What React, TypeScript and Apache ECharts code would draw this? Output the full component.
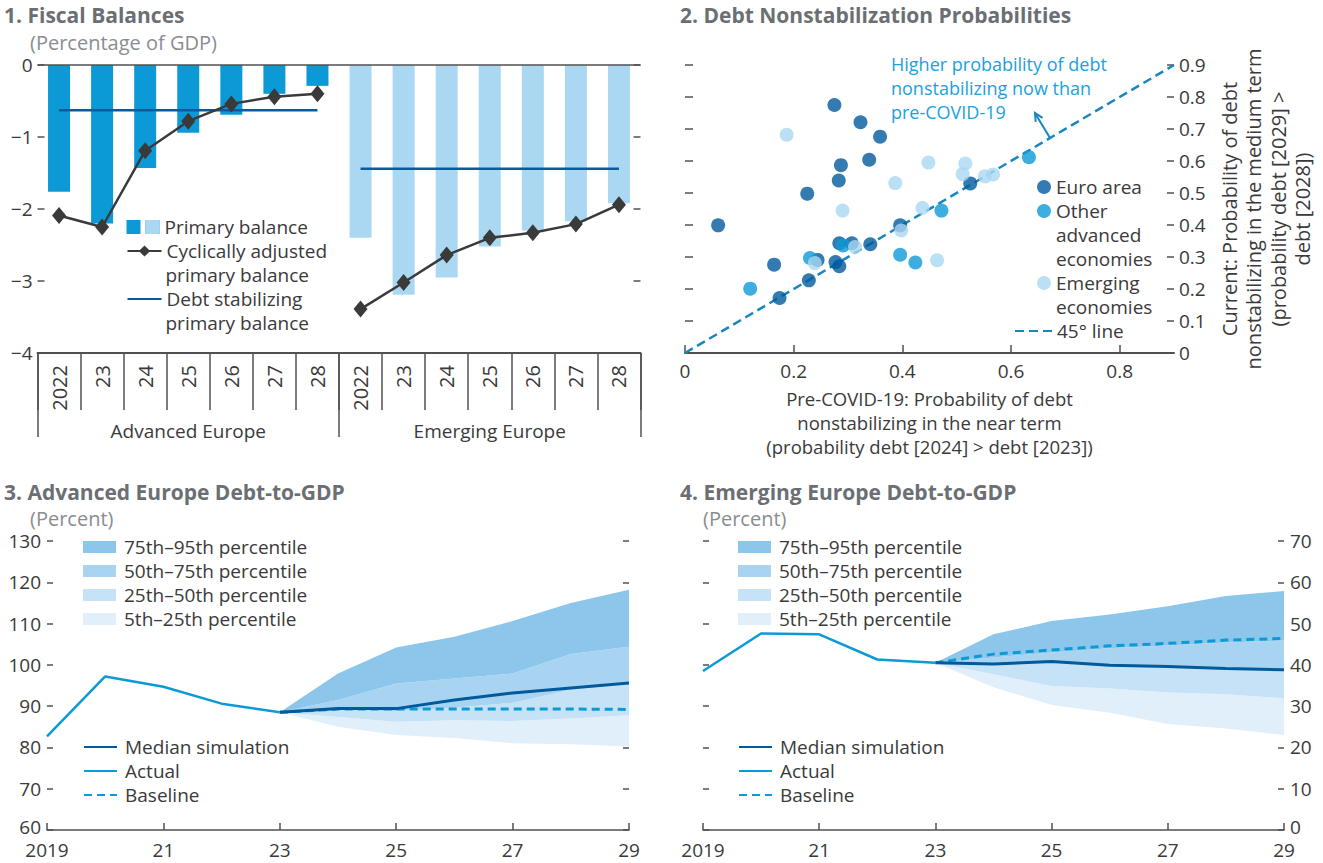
import React, { useEffect, useRef } from 'react';
import * as echarts from 'echarts';

const F = '"Open Sans", sans-serif';
const TXT = '#3a3a3a';
const AX = '#505050';
const FS = 19;

// ---------- Panel 1: Fiscal balances ----------
const fiscalYears = ['2022', '23', '24', '25', '26', '27', '28'];
const fiscalGroups = ['Advanced Europe', 'Emerging Europe'];
const primaryAdv = [-1.76, -2.2, -1.43, -0.94, -0.69, -0.4, -0.29];
const primaryEm = [-2.4, -3.19, -2.95, -2.52, -2.3, -2.17, -1.92];
const cyclAdv = [-2.09, -2.25, -1.19, -0.78, -0.54, -0.44, -0.4];
const cyclEm = [-3.39, -3.02, -2.64, -2.4, -2.33, -2.21, -1.94];
const debtStabAdv = -0.63;
const debtStabEm = -1.44;

// ---------- Panel 2: Debt nonstabilization probabilities ----------
const euroArea = [
  [0.061, 0.399], [0.275, 0.775], [0.323, 0.721], [0.359, 0.676], [0.339, 0.604],
  [0.287, 0.587], [0.283, 0.539], [0.225, 0.498], [0.525, 0.53], [0.396, 0.399],
  [0.284, 0.343], [0.307, 0.343], [0.341, 0.34], [0.164, 0.276], [0.244, 0.291],
  [0.277, 0.284], [0.284, 0.271], [0.228, 0.227], [0.174, 0.172],
];
const otherAdvanced = [
  [0.12, 0.201], [0.23, 0.297], [0.291, 0.336], [0.396, 0.307], [0.424, 0.283],
  [0.472, 0.445], [0.633, 0.612],
];
const emergingEcon = [
  [0.187, 0.682], [0.448, 0.595], [0.516, 0.592], [0.511, 0.559], [0.552, 0.552],
  [0.567, 0.558], [0.387, 0.531], [0.29, 0.445], [0.437, 0.453], [0.398, 0.383],
  [0.313, 0.331], [0.239, 0.281], [0.464, 0.29],
];
const diag45 = [[0, 0], [0.9, 0.9]];
const probTicks = [0, 0.2, 0.4, 0.6, 0.8];

// ---------- Panels 3 & 4: Debt-to-GDP ----------
const projYears = ['2019', '20', '21', '22', '23', '24', '25', '26', '27', '28', '29'];
// actual 2019-2023, projections 2023-2029
const adv_actual = [82.7, 97.2, 94.7, 90.6, 88.5];
const adv_p5 = [88.5, 85.0, 83.0, 82.3, 81.0, 80.8, 80.2];
const adv_p25 = [88.5, 87.4, 86.2, 86.6, 86.4, 87.0, 87.8];
const adv_p50 = [88.5, 89.0, 88.8, 89.6, 90.8, 94.0, 95.3];
const adv_p75 = [88.5, 91.5, 95.5, 96.7, 97.9, 102.6, 104.4];
const adv_p95 = [88.5, 97.9, 104.2, 106.8, 110.6, 115.0, 118.2];
const adv_median = [88.5, 89.4, 89.4, 91.5, 93.2, 94.4, 95.6];
const adv_baseline = [88.5, 89.3, 89.3, 89.3, 89.3, 89.3, 89.2];

const em_actual = [38.5, 47.6, 47.4, 41.3, 40.5];
const em_p5 = [40.5, 34.6, 30.3, 28.4, 25.7, 24.6, 23.0];
const em_p25 = [40.5, 37.7, 34.9, 34.3, 33.3, 32.9, 31.9];
const em_p50 = [40.5, 40.3, 40.9, 40.1, 39.8, 39.3, 39.1];
const em_p75 = [40.5, 41.8, 43.0, 44.0, 44.7, 45.4, 45.9];
const em_p95 = [40.5, 47.4, 50.6, 52.2, 54.2, 56.7, 57.9];
const em_median = [40.5, 40.2, 40.8, 39.9, 39.6, 39.1, 38.8];
const em_baseline = [40.5, 42.6, 43.6, 44.6, 45.2, 46.0, 46.4];

const bandNames = ['5th–25th percentile', '25th–50th percentile', '50th–75th percentile', '75th–95th percentile'];
const bandColors = ['#e0effa', '#c6e2f6', '#a9d4f1', '#8cc6eb'];

const C_DARK = '#005a9c';
const C_MID = '#0c9ad7';
const C_LIGHT = '#aad8f2';

export default function App() {
  const ref = useRef<HTMLDivElement>(null);

  useEffect(() => {
    if (!ref.current) return;
    const chart = echarts.init(ref.current, undefined, { renderer: 'svg' });

    const nul7 = fiscalYears.map(() => null);
    const cats1 = [...fiscalYears, ...fiscalYears];
    const padProj = (a: number[]) => [null, null, null, null, ...a];
    const padAct = (a: number[]) => [...a, null, null, null, null, null, null];
    const diff = (hi: number[], lo: number[]) => hi.map((v, i) => +(v - lo[i]).toFixed(3));
    const minus = (v: number) => (v < 0 ? '\u2212' + Math.abs(v) : String(v));
    // lift the lowest value label slightly so it does not collide with the year labels
    const liftMin = (min: number) => (v: number) => (v === min ? `{lo|${v}}` : String(v));
    const richLo = { lo: { fontSize: FS, color: TXT, fontFamily: F, padding: [0, 0, 6, 0] } };

    const txt = { fontSize: FS, color: TXT, fontFamily: F };

    const bandSeries = (xi: number, yi: number, stack: string, pcts: number[][]) => {
      const out: any[] = [
        {
          type: 'line', name: 'base-' + stack, xAxisIndex: xi, yAxisIndex: yi, stack,
          data: padProj(pcts[0]), symbol: 'none', lineStyle: { opacity: 0 }, silent: true, z: 1,
        },
      ];
      for (let k = 0; k < 4; k++) {
        out.push({
          type: 'line', name: bandNames[k], xAxisIndex: xi, yAxisIndex: yi, stack,
          data: padProj(diff(pcts[k + 1], pcts[k])), symbol: 'none',
          color: bandColors[k], itemStyle: { color: bandColors[k] },
          lineStyle: { opacity: 0, width: 0 }, areaStyle: { color: bandColors[k], opacity: 1 }, z: 1,
        });
      }
      return out;
    };

    const lineSeries = (xi: number, yi: number, actual: number[], median: number[], baseline: number[]) => [
      {
        type: 'line', name: 'Baseline', xAxisIndex: xi, yAxisIndex: yi, data: padProj(baseline),
        symbol: 'none', color: C_MID, lineStyle: { color: C_MID, width: 3, type: [8, 5] }, z: 3,
      },
      {
        type: 'line', name: 'Median simulation', xAxisIndex: xi, yAxisIndex: yi, data: padProj(median),
        symbol: 'none', color: C_DARK, lineStyle: { color: C_DARK, width: 3 }, z: 4,
      },
      {
        type: 'line', name: 'Actual', xAxisIndex: xi, yAxisIndex: yi, data: padAct(actual),
        symbol: 'none', color: C_MID, lineStyle: { color: C_MID, width: 2.5 }, z: 5,
      },
    ];

    const titleBold = (text: string, left: number, top: number) => ({
      text, left, top, padding: 0,
      textStyle: { fontSize: 21, fontWeight: 'bold', color: '#6b6f74', fontFamily: F, lineHeight: 22 },
    });
    const titleSub = (text: string, left: number, top: number) => ({
      text, left, top, padding: 0,
      textStyle: { fontSize: 20, fontWeight: 'normal', color: '#8a8d90', fontFamily: F, lineHeight: 22 },
    });

    const legendBase = {
      orient: 'vertical', padding: 0, itemGap: 0,
      textStyle: { ...txt, lineHeight: 24 },
    };
    const noSymbol = { itemStyle: { opacity: 0 } };

    const gText = (x: number, y: number, text: string, extra: any = {}) => ({
      type: 'text', x, y, silent: true,
      style: { text, fontSize: FS, fontFamily: F, fill: TXT, verticalAlign: 'middle', lineHeight: 24, ...extra },
    });

    const option: any = {
      animation: false,
      textStyle: { fontFamily: F },
      title: [
        titleBold('1. Fiscal Balances', 4, 4),
        titleSub('(Percentage of GDP)', 30, 31),
        titleBold('2. Debt Nonstabilization Probabilities', 680, 4),
        titleBold('3. Advanced Europe Debt-to-GDP', 4, 481),
        titleSub('(Percent)', 30, 507),
        titleBold('4. Emerging Europe Debt-to-GDP', 680, 481),
        titleSub('(Percent)', 703, 507),
      ],
      grid: [
        { left: 37.5, top: 65, width: 603, height: 288 },
        { left: 685, top: 65, width: 489, height: 288 },
        { left: 47, top: 541, width: 582, height: 289 },
        { left: 703, top: 541, width: 581, height: 289 },
        { left: 37.5, top: 65, width: 603, height: 288 },
      ],
      xAxis: [
        {
          gridIndex: 0, type: 'category', data: cats1, position: 'bottom', boundaryGap: true,
          axisLine: { show: true, onZero: false, lineStyle: { color: AX, width: 2 } },
          axisTick: { show: true, interval: 0, length: 57, lineStyle: { color: AX, width: 1.5 } },
          axisLabel: { interval: 0, rotate: 90, margin: 12, ...txt, fontSize: 20 },
        },
        {
          gridIndex: 4, type: 'category', data: fiscalGroups, position: 'bottom', boundaryGap: true,
          axisLine: { show: false, onZero: false },
          axisTick: { show: true, interval: 0, length: 84, lineStyle: { color: AX, width: 1.5 } },
          axisLabel: { interval: 0, margin: 68, ...txt },
        },
        {
          gridIndex: 1, type: 'value', min: 0, max: 0.9, position: 'bottom',
          axisLine: { show: true, onZero: false, lineStyle: { color: AX, width: 2 } },
          axisTick: { show: true, inside: true, length: 8, customValues: probTicks, lineStyle: { color: AX, width: 1.5 } },
          axisLabel: { customValues: probTicks, margin: 8, ...txt },
          splitLine: { show: false },
          name: 'Pre-COVID-19: Probability of debt\nnonstabilizing in the near term\n(probability debt [2024] > debt [2023])',
          nameLocation: 'middle', nameGap: 33,
          nameTextStyle: { ...txt, fontSize: 18.5, lineHeight: 24 },
        },
        {
          gridIndex: 2, type: 'category', data: projYears, boundaryGap: false,
          axisLine: { show: true, onZero: false, lineStyle: { color: AX, width: 1.5 } },
          axisTick: { show: true, inside: true, length: 7, interval: 1, lineStyle: { color: AX, width: 1.5 } },
          axisLabel: { interval: 1, margin: 10, ...txt, lineHeight: 19 },
        },
        {
          gridIndex: 3, type: 'category', data: projYears, boundaryGap: false,
          axisLine: { show: true, onZero: false, lineStyle: { color: AX, width: 1.5 } },
          axisTick: { show: true, inside: true, length: 7, interval: 1, lineStyle: { color: AX, width: 1.5 } },
          axisLabel: { interval: 1, margin: 10, ...txt, lineHeight: 19 },
        },
      ],
      yAxis: [
        {
          gridIndex: 0, type: 'value', min: -4, max: 0, interval: 1, position: 'left',
          axisLine: { show: false }, splitLine: { show: false },
          axisTick: { show: true, inside: true, length: 7, lineStyle: { color: AX, width: 1.5 } },
          axisLabel: { margin: 5, formatter: minus, ...txt },
        },
        {
          gridIndex: 0, type: 'value', min: -4, max: 0, interval: 1, position: 'right',
          axisLine: { show: false }, splitLine: { show: false },
          axisTick: { show: true, inside: true, length: 7, lineStyle: { color: AX, width: 1.5 } },
          axisLabel: { show: false },
        },
        { gridIndex: 4, type: 'value', min: -4, max: 0, show: false },
        {
          gridIndex: 1, type: 'value', min: 0, max: 0.9, interval: 0.1, position: 'left',
          axisLine: { show: false }, splitLine: { show: false },
          axisTick: { show: true, inside: true, length: 8, lineStyle: { color: AX, width: 1.5 } },
          axisLabel: { show: false },
        },
        {
          gridIndex: 1, type: 'value', min: 0, max: 0.9, interval: 0.1, position: 'right',
          axisLine: { show: false }, splitLine: { show: false },
          axisTick: { show: true, inside: true, length: 7, lineStyle: { color: AX, width: 1.5 } },
          axisLabel: { margin: 5, ...txt },
        },
        {
          gridIndex: 2, type: 'value', min: 60, max: 130, interval: 10, position: 'left',
          axisLine: { show: false }, splitLine: { show: false },
          axisTick: { show: true, inside: true, length: 6, lineStyle: { color: AX, width: 1.5 } },
          axisLabel: { margin: 6, ...txt, lineHeight: 19, formatter: liftMin(60), rich: richLo },
        },
        {
          gridIndex: 2, type: 'value', min: 60, max: 130, interval: 10, position: 'right',
          axisLine: { show: false }, splitLine: { show: false },
          axisTick: { show: true, inside: true, length: 6, lineStyle: { color: AX, width: 1.5 } },
          axisLabel: { show: false },
        },
        {
          gridIndex: 3, type: 'value', min: 0, max: 70, interval: 10, position: 'left',
          axisLine: { show: false }, splitLine: { show: false },
          axisTick: { show: true, inside: true, length: 6, lineStyle: { color: AX, width: 1.5 } },
          axisLabel: { show: false },
        },
        {
          gridIndex: 3, type: 'value', min: 0, max: 70, interval: 10, position: 'right',
          axisLine: { show: false }, splitLine: { show: false },
          axisTick: { show: true, inside: true, length: 6, lineStyle: { color: AX, width: 1.5 } },
          axisLabel: { margin: 6, ...txt, lineHeight: 19, formatter: liftMin(0), rich: richLo },
        },
      ],
      legend: [
        // Panel 1
        {
          ...legendBase, left: 126.5, top: 215, data: ['Primary balance'],
          icon: 'path://M0,0H14V14H0Z M19,0H33V14H19Z', itemWidth: 33, itemHeight: 14,
          itemStyle: { borderWidth: 0 },
        },
        {
          ...legendBase, left: 145.5, top: 220, data: ['Primary balance, Emerging Europe'],
          icon: 'rect', itemWidth: 14, itemHeight: 14, formatter: () => '', itemStyle: { borderWidth: 0 },
        },
        {
          ...legendBase, left: 126.5, top: 239, data: ['Cyclically adjusted primary balance'],
          itemWidth: 34, itemHeight: 14, formatter: () => 'Cyclically adjusted',
        },
        {
          ...legendBase, ...noSymbol, left: 126.5, top: 287, data: ['Debt stabilizing primary balance'],
          itemWidth: 34, itemHeight: 14, formatter: () => 'Debt stabilizing',
        },
        // Panel 2
        {
          ...legendBase, left: 1037, top: 175, data: ['Euro area'], icon: 'circle',
          itemWidth: 14, itemHeight: 14,
        },
        {
          ...legendBase, left: 1037, top: 199, data: ['Other advanced economies'], icon: 'circle',
          itemWidth: 14, itemHeight: 14, formatter: () => 'Other',
        },
        {
          ...legendBase, left: 1037, top: 271, data: ['Emerging economies'], icon: 'circle',
          itemWidth: 14, itemHeight: 14, formatter: () => 'Emerging',
        },
        {
          ...legendBase, ...noSymbol, left: 1014, top: 319, data: ['45° line'], itemWidth: 37, itemHeight: 14,
        },
        // Panel 3
        {
          ...legendBase, left: 83, top: 535, data: [...bandNames].reverse(), icon: 'rect',
          itemWidth: 33, itemHeight: 12, itemStyle: { borderWidth: 0 },
          textStyle: { ...txt, lineHeight: 24, padding: [0, 0, 0, 3] },
        },
        {
          ...legendBase, ...noSymbol, left: 83, top: 735, data: ['Median simulation', 'Actual', 'Baseline'],
          itemWidth: 33, itemHeight: 14,
          textStyle: { ...txt, lineHeight: 24, padding: [0, 0, 0, 3] },
        },
        // Panel 4
        {
          ...legendBase, left: 738, top: 535, data: [...bandNames].reverse(), icon: 'rect',
          itemWidth: 33, itemHeight: 12, itemStyle: { borderWidth: 0 },
          textStyle: { ...txt, lineHeight: 24, padding: [0, 0, 0, 3] },
        },
        {
          ...legendBase, ...noSymbol, left: 738, top: 735, data: ['Median simulation', 'Actual', 'Baseline'],
          itemWidth: 33, itemHeight: 14,
          textStyle: { ...txt, lineHeight: 24, padding: [0, 0, 0, 3] },
        },
      ],
      graphic: [
        gText(165.5, 275, 'primary balance'),
        gText(165.5, 323, 'primary balance'),
        gText(1056, 247, 'advanced\neconomies'),
        gText(1056, 307, 'economies'),
        gText(891, 88, 'Higher probability of debt\nnonstabilizing now than\npre-COVID-19', { fill: '#1ba1dd', fontSize: 18 }),
        {
          type: 'line', silent: true,
          shape: { x1: 1050, y1: 138, x2: 1035.5, y2: 114 },
          style: { stroke: '#1a86c0', lineWidth: 2 },
        },
        {
          type: 'polyline', silent: true,
          shape: { points: [[1042.5, 117.8], [1035, 113], [1035.7, 121.9]] },
          style: { stroke: '#1a86c0', lineWidth: 2, fill: null },
        },
        {
          type: 'text', x: 1266, y: 209, rotation: Math.PI / 2, silent: true,
          style: {
            text: 'Current: Probability of debt\nnonstabilizing in the medium term\n(probability debt [2029] >\ndebt [2028])',
            fontSize: 20, fontFamily: F, fill: TXT, align: 'center', verticalAlign: 'middle', lineHeight: 24.5,
          },
        },
      ],
      series: [
        // Panel 1
        {
          type: 'bar', name: 'Primary balance', xAxisIndex: 0, yAxisIndex: 0,
          data: [...primaryAdv, ...nul7], barWidth: 22, barGap: '-100%',
          color: C_MID, itemStyle: { color: C_MID },
          markLine: {
            silent: true, symbol: 'none', label: { show: false },
            lineStyle: { color: AX, width: 1.5, type: 'solid' }, data: [{ yAxis: 0 }],
          },
        },
        {
          type: 'bar', name: 'Primary balance, Emerging Europe', xAxisIndex: 0, yAxisIndex: 0,
          data: [...nul7, ...primaryEm], barWidth: 22, barGap: '-100%',
          color: C_LIGHT, itemStyle: { color: C_LIGHT },
        },
        {
          type: 'line', name: 'Debt stabilizing primary balance', xAxisIndex: 0, yAxisIndex: 0,
          data: [...fiscalYears.map(() => debtStabAdv), ...nul7], symbol: 'none',
          color: '#0b5a9a', lineStyle: { color: '#0b5a9a', width: 2.5 },
        },
        {
          type: 'line', name: 'Debt stabilizing primary balance', xAxisIndex: 0, yAxisIndex: 0,
          data: [...nul7, ...fiscalYears.map(() => debtStabEm)], symbol: 'none',
          color: '#0b5a9a', lineStyle: { color: '#0b5a9a', width: 2.5 },
        },
        {
          type: 'line', name: 'Cyclically adjusted primary balance', xAxisIndex: 0, yAxisIndex: 0,
          data: [...cyclAdv, ...nul7], symbol: 'diamond', symbolSize: [14, 17],
          color: '#3a3a3a', itemStyle: { color: '#3a3a3a' }, lineStyle: { color: '#3a3a3a', width: 2.5 },
        },
        {
          type: 'line', name: 'Cyclically adjusted primary balance', xAxisIndex: 0, yAxisIndex: 0,
          data: [...nul7, ...cyclEm], symbol: 'diamond', symbolSize: [14, 17],
          color: '#3a3a3a', itemStyle: { color: '#3a3a3a' }, lineStyle: { color: '#3a3a3a', width: 2.5 },
        },
        // Panel 2
        {
          type: 'line', name: '45° line', xAxisIndex: 2, yAxisIndex: 3, data: diag45, symbol: 'none',
          color: '#1a86c0', lineStyle: { color: '#1a86c0', width: 2.5, type: [9, 5] }, z: 1,
        },
        {
          type: 'scatter', name: 'Euro area', xAxisIndex: 2, yAxisIndex: 3, data: euroArea,
          symbolSize: 14, color: C_DARK, itemStyle: { color: C_DARK }, z: 2,
        },
        {
          type: 'scatter', name: 'Other advanced economies', xAxisIndex: 2, yAxisIndex: 3, data: otherAdvanced,
          symbolSize: 14, color: C_MID, itemStyle: { color: C_MID }, z: 3,
        },
        {
          type: 'scatter', name: 'Emerging economies', xAxisIndex: 2, yAxisIndex: 3, data: emergingEcon,
          symbolSize: 14, color: C_LIGHT, itemStyle: { color: C_LIGHT }, z: 4,
        },
        // Panel 3
        ...bandSeries(3, 5, 'adv', [adv_p5, adv_p25, adv_p50, adv_p75, adv_p95]),
        ...lineSeries(3, 5, adv_actual, adv_median, adv_baseline),
        // Panel 4
        ...bandSeries(4, 7, 'em', [em_p5, em_p25, em_p50, em_p75, em_p95]),
        ...lineSeries(4, 7, em_actual, em_median, em_baseline),
      ],
    };

    chart.setOption(option);
    return () => chart.dispose();
  }, []);

  return (
    <div
      ref={ref}
      style={{ position: 'absolute', left: 0, top: 0, width: 1323, height: 863, background: '#fff' }}
    />
  );
}
